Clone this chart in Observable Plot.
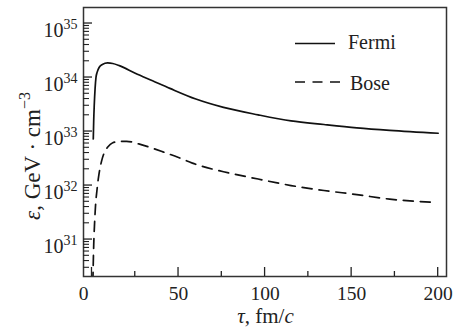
<!DOCTYPE html>
<html><head><meta charset="utf-8">
<script src="https://cdn.jsdelivr.net/npm/d3@7"></script>
<script src="https://cdn.jsdelivr.net/npm/@observablehq/plot@0.6"></script>
<style>
html,body{margin:0;padding:0;background:#fff;}
svg text{font-family:'Liberation Serif','Times New Roman',serif;}
</style></head><body><div id="chart"></div>
<script>
// Data
const tauFermi = [0.75, 1.0, 1.3, 1.8, 2.3, 3, 4.2, 6, 9, 12, 15.8, 25, 35, 45, 60, 76, 96, 115, 134, 153, 172, 200];
const epsFermi = [7.3e32, 1.6e33, 3.0e33, 6.3e33, 1.0e34, 1.26e34, 1.55e34, 1.74e34, 1.86e34, 1.82e34, 1.66e34, 1.2e34, 8.7e33, 6.3e33, 4.0e33, 2.8e33, 2.04e33, 1.58e33, 1.35e33, 1.17e33, 1.05e33, 9.3e32];
const tauBose = [0.5, 1.0, 1.5, 2.0, 3, 4, 5.5, 7, 9, 12, 17, 20, 27, 35, 41, 50, 58, 76, 96, 115, 134, 153, 172, 197];
const epsBose = [1.6e30, 7.9e30, 2.0e31, 4.0e31, 8.9e31, 1.6e32, 2.8e32, 4.0e32, 5.1e32, 6.2e32, 6.6e32, 6.6e32, 5.9e32, 4.9e32, 4.2e32, 3.3e32, 2.6e32, 1.8e32, 1.32e32, 1.0e32, 8.1e31, 6.8e31, 5.6e31, 4.9e31];
const seriesNames = ["Fermi", "Bose"];
const xTickMajor = [0, 50, 100, 150, 200];
const xTickMinor = [25, 75, 125, 175];
const xTickLabels = ["0", "50", "100", "150", "200"];
const yTickMajor = [1e31, 1e32, 1e33, 1e34, 1e35];
const yTickExp = ["31", "32", "33", "34", "35"];
const yMinorMult = [2, 3, 4, 5, 6, 7, 8, 9];
const xDomain = [-4.9, 204.8];
const yDomain = [2.07e30, 1.98e35];

const W = 454, H = 329, mL = 83, mR = 8, mT = 7, mB = 53;
const innerW = W - mL - mR, innerH = H - mT - mB;
const font = "'Liberation Serif', 'Times New Roman', serif";
const ink = "#222";

const fermi = tauFermi.map((t, i) => ({tau: t, eps: epsFermi[i]}));
const bose = tauBose.map((t, i) => ({tau: t, eps: epsBose[i]}));
const yMinor = [];
for (let e = 30; e <= 35; e++) for (const m of yMinorMult) {
  const v = m * Math.pow(10, e);
  if (v > yDomain[0] && v < yDomain[1]) yMinor.push(v);
}

const plot = Plot.plot({
  width: W, height: H,
  marginLeft: mL, marginRight: mR, marginTop: mT, marginBottom: mB,
  x: {domain: xDomain, axis: null},
  y: {type: "log", domain: yDomain, axis: null},
  style: {fontFamily: font, color: ink, background: "#fff", overflow: "visible"},
  marks: [
    Plot.line(fermi, {x: "tau", y: "eps", stroke: "#111", strokeWidth: 1.7, curve: "monotone-x", clip: true}),
    Plot.line(bose, {x: "tau", y: "eps", stroke: "#111", strokeWidth: 1.7, strokeDasharray: "10,7", curve: "monotone-x", clip: true}),
    Plot.frame({stroke: "#333", strokeWidth: 1.5}),
    Plot.text(xTickMajor.slice(1), {x: d => d, text: (d, i) => xTickLabels[i + 1], frameAnchor: "bottom", lineAnchor: "bottom", dy: 23, fontSize: 19.5, fill: ink}),
    Plot.text([xTickLabels[0]], {text: d => d, frameAnchor: "bottom-left", lineAnchor: "bottom", textAnchor: "middle", dy: 23, fontSize: 19.5, fill: ink}),
    Plot.text(yTickMajor, {y: d => d, text: (d, i) => "10^" + yTickExp[i], frameAnchor: "left", textAnchor: "end", lineAnchor: "bottom", dx: -6, dy: 13, fontSize: 20, fill: ink})
  ]
});
document.getElementById("chart").appendChild(plot);

const svg = d3.select(plot);
const xs = plot.scale("x"), ys = plot.scale("y");
const x0 = mL, yb = mT + innerH;

// Inward ticks positioned with the plot's own scales
const tg = svg.append("g").attr("stroke", ink).attr("fill", "none");
xTickMajor.forEach(v => { const px = xs.apply(v); tg.append("line").attr("x1", px).attr("x2", px).attr("y1", yb).attr("y2", yb - 9).attr("stroke-width", 1.3); });
xTickMinor.forEach(v => { const px = xs.apply(v); tg.append("line").attr("x1", px).attr("x2", px).attr("y1", yb).attr("y2", yb - 5).attr("stroke-width", 1.3); });
yTickMajor.forEach(v => { const py = ys.apply(v); tg.append("line").attr("x1", x0).attr("x2", x0 + 9).attr("y1", py).attr("y2", py).attr("stroke-width", 1.3); });
yMinor.forEach(v => { const py = ys.apply(v); tg.append("line").attr("x1", x0).attr("x2", x0 + 6).attr("y1", py).attr("y2", py).attr("stroke-width", 1.1); });

// Superscript tick labels 10^n
svg.selectAll("text").each(function() {
  const s = this.textContent;
  if (!s.startsWith("10^")) return;
  const exp = s.slice(3);
  const t = d3.select(this);
  t.text(null);
  t.append("tspan").text("10");
  t.append("tspan").attr("dy", -7.5).attr("font-size", 14).text(exp);
});

// Axis titles
const xt = svg.append("text").attr("x", mL + innerW / 2 + 1).attr("y", 323)
  .attr("text-anchor", "middle").attr("font-size", 21).attr("fill", ink);
xt.append("tspan").attr("font-style", "italic").text("τ");
xt.append("tspan").text(", fm/");
xt.append("tspan").attr("font-style", "italic").text("c");

const yt = svg.append("text").attr("transform", "translate(40,156) rotate(-90)")
  .attr("text-anchor", "middle").attr("font-size", 23).attr("fill", ink);
yt.append("tspan").attr("font-style", "italic").text("ε");
yt.append("tspan").text(", GeV · cm");
yt.append("tspan").attr("dy", -10).attr("font-size", 16).text("−3");

// Legend
const lg = svg.append("g").attr("font-size", 20).attr("fill", ink).attr("text-anchor", "start");
lg.append("line").attr("x1", 295).attr("x2", 335).attr("y1", 43.5).attr("y2", 43.5).attr("stroke", "#111").attr("stroke-width", 1.7);
lg.append("text").attr("x", 348).attr("y", 48.5).attr("text-anchor", "start").text(seriesNames[0]);
lg.append("line").attr("x1", 295).attr("x2", 340).attr("y1", 82).attr("y2", 82).attr("stroke", "#111").attr("stroke-width", 1.7).attr("stroke-dasharray", "10,7.5");
lg.append("text").attr("x", 350).attr("y", 89.5).attr("text-anchor", "start").text(seriesNames[1]);
</script>
</body></html>
